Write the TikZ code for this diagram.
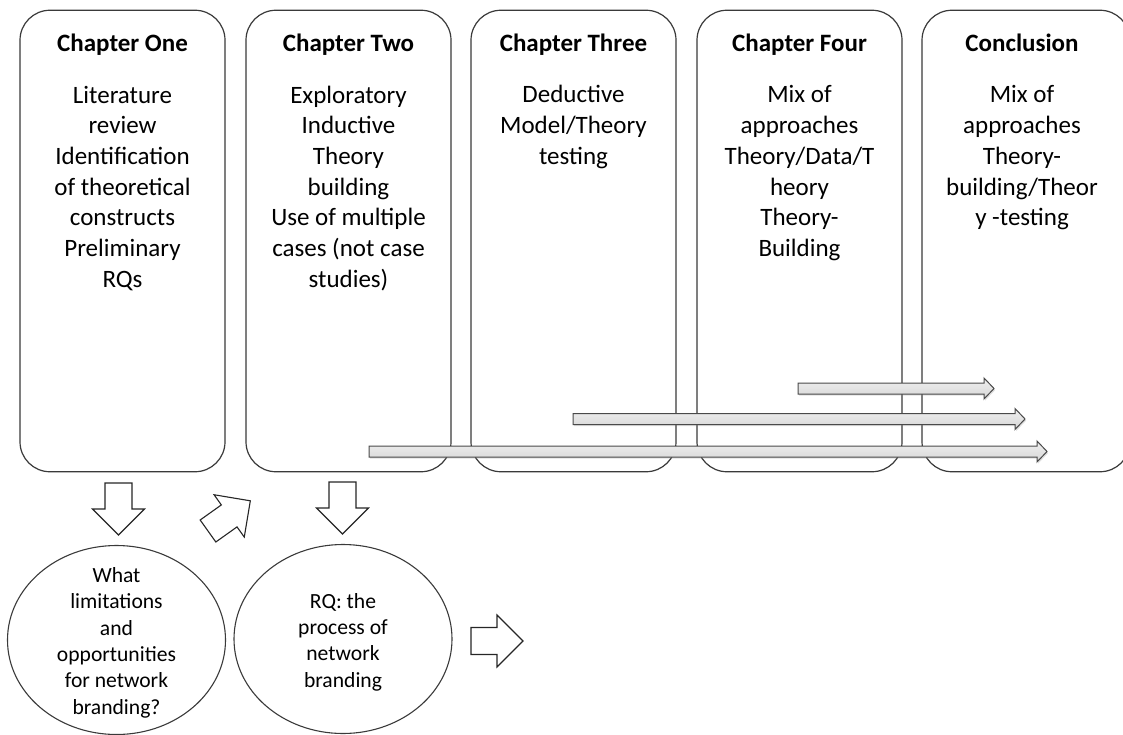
\documentclass[tikz,border=0pt]{standalone}
\usepackage{fontspec}
\setmainfont{Carlito}
\usetikzlibrary{shapes.geometric,shadows}
\definecolor{edge}{HTML}{3A3A3A}
\definecolor{arrowedge}{HTML}{4A4A4A}
\tikzset{
  chapbox/.style={draw=edge, line width=1.2pt, fill=white, rounded corners=30pt,
    minimum width=205pt, minimum height=461.5pt, inner sep=0pt},
  heading/.style={font=\bfseries\fontsize{25}{30.7}\selectfont, anchor=base, inner sep=0pt},
  % multi-line nodes sit on the baseline of their last line
  body/.style={font=\fontsize{25}{30.7}\selectfont, align=center, anchor=base, inner sep=0pt},
  question/.style={draw=edge, line width=1.1pt, ellipse, minimum width=218pt,
    minimum height=189pt, inner sep=0pt},
  qtext/.style={font=\fontsize{21.6}{26.3}\selectfont, align=center, anchor=base, inner sep=0pt},
  flowline/.style={draw=arrowedge, line width=1pt, top color=gray!12, bottom color=gray!32,
    drop shadow={shadow xshift=1.2pt, shadow yshift=-1.5pt, opacity=0.25}},
  outlinearrow/.style={draw=black!85, line width=1.1pt, fill=white, line join=miter},
  pics/grayarrow/.style={code={
    \path[flowline] (0,-5.5) -- (#1-10,-5.5) -- (#1-10,-10.5) -- (#1,0)
      -- (#1-10,10.5) -- (#1-10,5.5) -- (0,5.5) -- cycle;}},
  pics/blockarrow/.style={code={
    \path[outlinearrow] (0,-13.5) -- (26,-13.5) -- (26,-26) -- (52,0)
      -- (26,26) -- (26,13.5) -- (0,13.5) -- cycle;}}
}
\begin{document}
\begin{tikzpicture}[x=1pt,y=-1pt]
\useasboundingbox (0,0) rectangle (1123,735);
\clip (0,0) rectangle (1123,735);

% chapter columns
\node[chapbox] (ch1) at (122.5,241) {};
\node[chapbox] (ch2) at (348.5,241) {};
\node[chapbox] (ch3) at (573.5,241) {};
\node[chapbox] (ch4) at (799.5,241) {};
\node[chapbox, minimum width=208pt] (ch5) at (1026,241) {};

\node[heading] (h1) at (122.5,52) {Chapter One};
\node[heading] (h2) at (348.5,52) {Chapter Two};
\node[heading] (h3) at (573.5,52) {Chapter Three};
\node[heading] (h4) at (799.5,52) {Chapter Four};
\node[heading] (h5) at (1022,52) {Conclusion};

\node[body] (t1) at (122.5,287.2) {Literature\\review\\Identification\\of theoretical\\constructs\\Preliminary\\RQs};
\node[body] (t2) at (348.5,287.2) {Exploratory\\Inductive\\Theory\\building\\Use of multiple\\cases (not case\\studies)};
\node[body] (t3) at (573.5,164.4) {Deductive\\Model/Theory\\testing};
\node[body] (t4) at (799.5,256.5) {Mix of\\approaches\\Theory/Data/T\\heory\\Theory-\\Building};
\node[body] (t5) at (1022,225.8) {Mix of\\approaches\\Theory-\\building/Theor\\y -testing};

% spans of the approaches across the later chapters
\pic at (798,388.5) {grayarrow=196};
\pic at (573,419) {grayarrow=452};
\pic at (369,451.5) {grayarrow=678};

% research questions
\node[question] (q1) at (116.5,640) {};
\node[question] (q2) at (343,639) {};
\node[qtext] (qt1) at (116.5,714) {What\\limitations\\and\\opportunities\\for network\\branding?};
\node[qtext] (qt2) at (343,687) {RQ: the\\process of\\network\\branding};

% flow between chapters and questions
\pic[rotate=-90] at (118.5,483) {blockarrow};
\pic[rotate=35.5] at (208,531) {blockarrow};
\pic[rotate=-90] at (342.5,482) {blockarrow};
\pic at (471,641) {blockarrow};
\end{tikzpicture}
\end{document}
